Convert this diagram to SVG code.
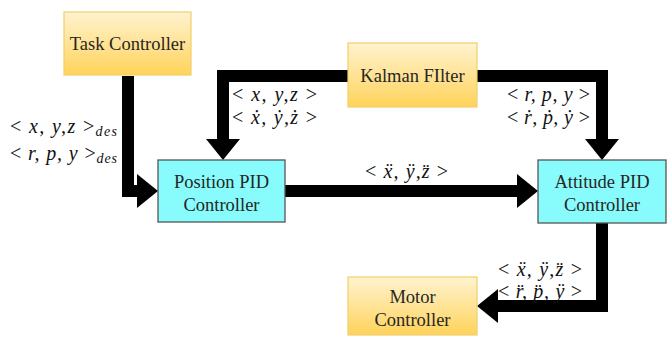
<svg xmlns="http://www.w3.org/2000/svg" width="669" height="337" viewBox="0 0 669 337">
<style>
.yb{fill:url(#yg);stroke:#F2CF6A;stroke-width:1.2}
.cb{fill:#88FCFC;stroke:#555;stroke-width:1.3}
.lb{font-family:"Liberation Serif","Times New Roman",serif;font-size:18.5px;fill:#262626;text-anchor:middle}
.m{font-family:"Liberation Serif","Times New Roman",serif;font-size:20px;fill:#111}
.v{font-style:italic}
.s{font-style:italic;font-size:14px}
.c{fill:none;stroke:#000;stroke-width:12;stroke-linejoin:miter}
</style>
<defs>
<linearGradient id="yg" x1="0" y1="0" x2="0" y2="1">
<stop offset="0" stop-color="#FFF3CF"/>
<stop offset="0.6" stop-color="#FFE08A"/>
<stop offset="1" stop-color="#FFD35A"/>
</linearGradient>
<marker id="ah" markerUnits="userSpaceOnUse" markerWidth="21" markerHeight="34" refX="0" refY="17" orient="auto" overflow="visible">
<path d="M0,0 L21,17 L0,34 z" fill="#000"/>
</marker>
</defs>
<g id="connectors">
<path class="c" d="M128,76 V191 H137" marker-end="url(#ah)"/>
<path class="c" d="M348,76 H223 V139" marker-end="url(#ah)"/>
<path class="c" d="M477,76 H602 V139" marker-end="url(#ah)"/>
<path class="c" d="M285,191 H517" marker-end="url(#ah)"/>
<path class="c" d="M602,223 V306 H498" marker-end="url(#ah)"/>
</g>
<g id="task">
<rect class="yb" x="64" y="12" width="127" height="63"/>
<text class="lb" x="127.5" y="50">Task Controller</text>
</g>
<g id="kalman">
<rect class="yb" x="348" y="43" width="129" height="64"/>
<text class="lb" x="412.5" y="82">Kalman FIlter</text>
</g>
<g id="position">
<rect class="cb" x="158" y="160" width="127" height="62"/>
<text class="lb" x="221.5" y="188">Position PID</text>
<text class="lb" x="221.5" y="211">Controller</text>
</g>
<g id="attitude">
<rect class="cb" x="538" y="160" width="128" height="63"/>
<text class="lb" x="602" y="188">Attitude PID</text>
<text class="lb" x="602" y="211">Controller</text>
</g>
<g id="motor">
<rect class="yb" x="348" y="277" width="129" height="58"/>
<text class="lb" x="412.5" y="303">Motor</text>
<text class="lb" x="412.5" y="326">Controller</text>
</g>
<g id="labels">
<text class="m" x="10" y="133" textLength="107" lengthAdjust="spacing">&lt; <tspan class="v">x, y,z</tspan> &gt;<tspan class="s" dy="3">des</tspan></text>
<text class="m" x="10" y="160" textLength="107" lengthAdjust="spacing">&lt; <tspan class="v">r, p, y</tspan> &gt;<tspan class="s" dy="3">des</tspan></text>
<text class="m" x="232" y="101" textLength="85" lengthAdjust="spacing">&lt; <tspan class="v">x, y,z</tspan> &gt;</text>
<text class="m" x="232" y="124" textLength="85" lengthAdjust="spacing">&lt; <tspan class="v">ẋ, ẏ,ż</tspan> &gt;</text>
<text class="m" x="507" y="101" textLength="83" lengthAdjust="spacing">&lt; <tspan class="v">r, p, y</tspan> &gt;</text>
<text class="m" x="507" y="124" textLength="83" lengthAdjust="spacing">&lt; <tspan class="v">ṙ, ṗ, ẏ</tspan> &gt;</text>
<text class="m" x="365" y="178" textLength="83" lengthAdjust="spacing">&lt; <tspan class="v">ẍ, ÿ,z̈</tspan> &gt;</text>
<text class="m" x="498" y="276" textLength="84" lengthAdjust="spacing">&lt; <tspan class="v">ẍ, ÿ,z̈</tspan> &gt;</text>
<text class="m" x="498" y="298" textLength="84" lengthAdjust="spacing">&lt; <tspan class="v">r̈, p̈, ÿ</tspan> &gt;</text>
</g>
</svg>
